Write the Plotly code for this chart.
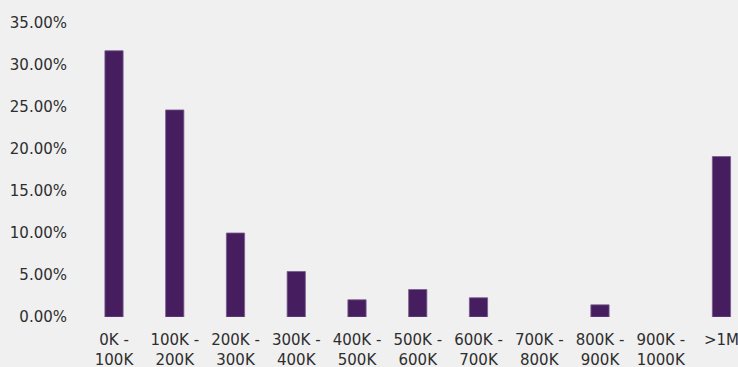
import plotly.graph_objects as go

categories = ["0K -<br>100K", "100K -<br>200K", "200K -<br>300K", "300K -<br>400K",
              "400K -<br>500K", "500K -<br>600K", "600K -<br>700K", "700K -<br>800K",
              "800K -<br>900K", "900K -<br>1000K", ">1M"]
values = [31.7, 24.65, 10.0, 5.42, 2.05, 3.27, 2.29, 0.0, 1.45, 0.0, 19.1]
y_ticks = [0, 5, 10, 15, 20, 25, 30, 35]
y_tick_labels = ["0.00%", "5.00%", "10.00%", "15.00%", "20.00%", "25.00%", "30.00%", "35.00%"]

line_widths = [0.8 if v > 0 else 0 for v in values]
xs = list(range(len(categories)))

fig = go.Figure(go.Bar(
    x=xs, y=values,
    marker=dict(color="#461E5F", line=dict(color="#7A5A8E", width=line_widths)),
    width=0.3,
))

# last label would be dropped by plotly since it touches the edge; draw it as annotation
tick_text = categories[:-1] + [""]
fig.add_annotation(
    x=xs[-1], y=0, xref="x", yref="paper", yanchor="top", xanchor="center",
    text=categories[-1], showarrow=False, yshift=-12,
    font=dict(family="DejaVu Sans", size=15, color="#2E2E2E"),
)

fig.update_layout(
    width=738, height=367,
    margin=dict(l=84, r=0, t=23, b=50),
    paper_bgcolor="#F0F0F0", plot_bgcolor="#F0F0F0",
    font=dict(family="DejaVu Sans", size=15, color="#2E2E2E"),
    showlegend=False,
    xaxis=dict(
        tickmode="array", tickvals=xs, ticktext=tick_text,
        range=[-0.494, 10.272], showgrid=False, zeroline=False, showline=False,
        ticks="", ticklabelstandoff=12, automargin=False,
    ),
    yaxis=dict(
        range=[0, 35], tickmode="array", tickvals=y_ticks, ticktext=y_tick_labels,
        showgrid=False, zeroline=False, showline=False, ticks="",
        ticklabelstandoff=16, automargin=False,
    ),
)

fig.write_html("out.html")
